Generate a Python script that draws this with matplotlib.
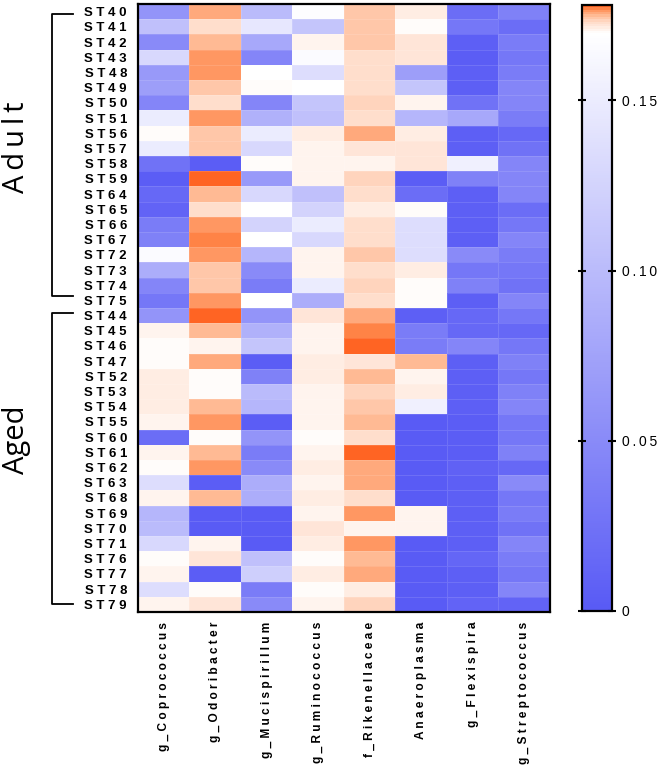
import numpy as np
import matplotlib
matplotlib.use('Agg')
from matplotlib import pyplot as plt
from matplotlib import transforms
from matplotlib.colors import LinearSegmentedColormap

#####################################
# Data
taxa = ['g_Coprococcus', 'g_Odoribacter', 'g_Mucispirillum', 'g_Ruminococcus',
        'f_Rikenellaceae', 'Anaeroplasma', 'g_Flexispira', 'g_Streptococcus']

adult_ids = ['ST40', 'ST41', 'ST42', 'ST43', 'ST48', 'ST49', 'ST50', 'ST51', 'ST56', 'ST57',
             'ST58', 'ST59', 'ST64', 'ST65', 'ST66', 'ST67', 'ST72', 'ST73', 'ST74', 'ST75']
aged_ids = ['ST44', 'ST45', 'ST46', 'ST47', 'ST52', 'ST53', 'ST54', 'ST55', 'ST60', 'ST61',
            'ST62', 'ST63', 'ST68', 'ST69', 'ST70', 'ST71', 'ST76', 'ST77', 'ST78', 'ST79']

# one row per sample, columns follow taxa
adult_vals = [
    [0.060, 0.1755, 0.100, 0.168, 0.1740, 0.1715, 0.020, 0.040],
    [0.105, 0.1730, 0.145, 0.110, 0.1740, 0.1700, 0.030, 0.020],
    [0.050, 0.1750, 0.080, 0.1705, 0.1740, 0.1720, 0.005, 0.035],
    [0.130, 0.1760, 0.045, 0.165, 0.1730, 0.1720, 0.003, 0.030],
    [0.065, 0.1762, 0.169, 0.135, 0.1725, 0.070, 0.005, 0.035],
    [0.070, 0.1745, 0.170, 0.169, 0.1725, 0.110, 0.005, 0.045],
    [0.045, 0.1730, 0.045, 0.110, 0.1735, 0.1705, 0.025, 0.045],
    [0.150, 0.1760, 0.090, 0.105, 0.1730, 0.095, 0.080, 0.035],
    [0.170, 0.1740, 0.150, 0.1715, 0.1757, 0.1715, 0.005, 0.015],
    [0.150, 0.1745, 0.130, 0.1705, 0.1720, 0.1722, 0.005, 0.025],
    [0.025, 0.003, 0.170, 0.1708, 0.1710, 0.1720, 0.155, 0.045],
    [0.003, 0.1775, 0.065, 0.1705, 0.1735, 0.003, 0.040, 0.045],
    [0.015, 0.1750, 0.130, 0.105, 0.1730, 0.020, 0.005, 0.045],
    [0.010, 0.1730, 0.169, 0.125, 0.1715, 0.170, 0.005, 0.020],
    [0.035, 0.1765, 0.125, 0.150, 0.1730, 0.135, 0.005, 0.030],
    [0.040, 0.1772, 0.169, 0.130, 0.1730, 0.135, 0.005, 0.045],
    [0.165, 0.1760, 0.095, 0.1710, 0.1745, 0.135, 0.050, 0.035],
    [0.085, 0.1740, 0.050, 0.1710, 0.1730, 0.1715, 0.030, 0.030],
    [0.045, 0.1740, 0.035, 0.150, 0.1738, 0.170, 0.040, 0.025],
    [0.030, 0.1765, 0.169, 0.085, 0.1730, 0.170, 0.005, 0.045],
]
aged_vals = [
    [0.060, 0.1780, 0.060, 0.1720, 0.1757, 0.005, 0.015, 0.030],
    [0.1705, 0.1748, 0.090, 0.1705, 0.1770, 0.035, 0.015, 0.015],
    [0.1702, 0.1710, 0.110, 0.1705, 0.1776, 0.035, 0.045, 0.030],
    [0.1702, 0.1757, 0.003, 0.1714, 0.1720, 0.1748, 0.005, 0.040],
    [0.1714, 0.1702, 0.040, 0.1714, 0.1748, 0.1705, 0.005, 0.030],
    [0.1714, 0.1702, 0.100, 0.1708, 0.1738, 0.1714, 0.005, 0.040],
    [0.1716, 0.1748, 0.095, 0.1705, 0.1745, 0.155, 0.005, 0.045],
    [0.1710, 0.1765, 0.003, 0.1705, 0.1752, 0.002, 0.003, 0.030],
    [0.020, 0.1702, 0.060, 0.1703, 0.1726, 0.002, 0.003, 0.030],
    [0.1710, 0.1750, 0.035, 0.1705, 0.1775, 0.002, 0.003, 0.040],
    [0.1702, 0.1760, 0.050, 0.1714, 0.1757, 0.002, 0.008, 0.015],
    [0.135, 0.003, 0.085, 0.1705, 0.1758, 0.002, 0.005, 0.050],
    [0.1710, 0.1748, 0.085, 0.1712, 0.1730, 0.002, 0.005, 0.030],
    [0.095, 0.002, 0.002, 0.1708, 0.1765, 0.1710, 0.005, 0.035],
    [0.100, 0.002, 0.002, 0.1722, 0.1705, 0.1710, 0.005, 0.025],
    [0.130, 0.1705, 0.002, 0.1716, 0.1763, 0.002, 0.005, 0.045],
    [0.1702, 0.1724, 0.105, 0.1703, 0.1752, 0.002, 0.012, 0.035],
    [0.1705, 0.003, 0.120, 0.1714, 0.1757, 0.002, 0.005, 0.030],
    [0.135, 0.1702, 0.035, 0.1703, 0.1716, 0.002, 0.005, 0.045],
    [0.1710, 0.1720, 0.050, 0.1707, 0.1738, 0.002, 0.010, 0.010],
]
cbar_ticks = [0, 0.05, 0.10, 0.15]
cbar_labels = ['0', '0.05', '0.10', '0.15']
#####################################

samples = adult_ids + aged_ids
values = np.array(adult_vals + aged_vals)
vmin, vmax = 0.0, 0.178


def spaced(s, sep=' '):
    # letter spaced look of the original labels
    return sep.join(s)


#####################################
# Colormap: blue -> white -> orange
nodes = [(0.0, (88, 90, 245)), (0.170, (255, 255, 255)), (0.1735, (255, 218, 198)),
         (0.1755, (255, 180, 140)), (0.1772, (255, 135, 75)), (0.178, (255, 100, 35))]
cmap = LinearSegmentedColormap.from_list(
    'bwo', [((v - vmin) / (vmax - vmin), tuple(c / 255 for c in col)) for v, col in nodes])
#####################################

fig = plt.figure()
fig.set_dpi(100)
fig.set_size_inches(6.61, 7.73)

ax = fig.add_axes([0.2088, 0.2083, 0.623, 0.7865])
mesh = ax.pcolormesh(values, cmap=cmap, vmin=vmin, vmax=vmax,
                     edgecolors=(1, 1, 1, 0.12), linewidth=0.5)
ax.set_xlim(0, len(taxa))
ax.set_ylim(len(samples), 0)
for s in ax.spines.values():
    s.set_linewidth(1.6)
    s.set_color('black')

lab_font = dict(fontfamily=['Liberation Sans', 'DejaVu Sans'], fontweight='bold')
ax.set_yticks(np.arange(len(samples)) + 0.5)
ax.set_yticklabels([spaced(s) for s in samples], fontsize=9.5, **lab_font)
ax.set_xticks(np.arange(len(taxa)) + 0.5)
ax.set_xticklabels([spaced(t) for t in taxa], rotation=90, fontsize=8.6, va='top', **lab_font)
ax.tick_params(axis='both', length=0)
ax.tick_params(axis='y', pad=8)
ax.tick_params(axis='x', pad=7)

# group brackets
trans = transforms.blended_transform_factory(ax.transAxes, ax.transData)
groups = [('Adult', 0.65, 19.2, 9.4, '\u2009'), ('Aged', 20.3, 39.5, 28.7, '')]
for name, y0, y1, yt, sep in groups:
    ax.plot([-0.158, -0.209, -0.209, -0.158], [y0, y0, y1, y1],
            color='black', lw=1.3, transform=trans, clip_on=False)
    ax.text(-0.294, yt, spaced(name, sep), rotation=90, ha='center', va='center',
            fontsize=21, fontfamily=['Open Sans', 'DejaVu Sans'], transform=trans)

# colorbar
cax = fig.add_axes([0.8805, 0.2096, 0.0454, 0.784])
cbar = fig.colorbar(mesh, cax=cax, ticks=cbar_ticks)
cbar.outline.set_linewidth(1.6)
cbar.ax.set_yticklabels([spaced(t, '\u2009') for t in cbar_labels], fontsize=10,
                        fontfamily=['Liberation Sans', 'DejaVu Sans'])
cbar.ax.tick_params(direction='inout', left=True, right=True, length=6, width=1.5, pad=4)

plt.savefig('out.png', dpi=100)
